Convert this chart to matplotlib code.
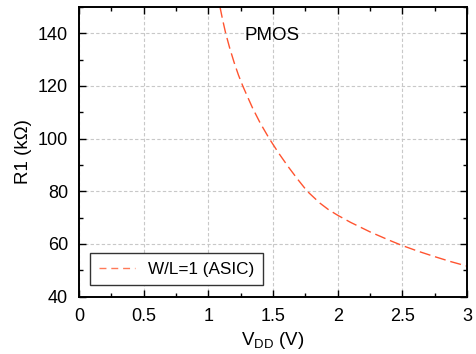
import matplotlib
matplotlib.use("Agg")
import matplotlib.pyplot as plt
from matplotlib.ticker import MultipleLocator
from matplotlib.lines import Line2D

plt.rcParams['font.family'] = ['Liberation Sans', 'DejaVu Sans']

vdd = [1.09, 1.11, 1.134, 1.165, 1.2, 1.233, 1.266, 1.30, 1.343, 1.40, 1.471, 1.545,
       1.618, 1.69, 1.765, 1.863, 1.93, 2.0, 2.1, 2.25, 2.4, 2.5, 2.625, 2.75, 2.875, 3.0]
r1 = [150, 145.2, 140, 134.4, 128.8, 124.1, 120, 116.2, 111.5, 106, 100, 94.4,
      89.3, 84.6, 80, 75.5, 73.0, 70.9, 68.2, 64.6, 61.4, 59.4, 57.2, 55.2, 53.3, 51.6]
series_label = "W/L=1 (ASIC)"
xticks = [0, 0.5, 1, 1.5, 2, 2.5, 3]
xticklabels = ["0", "0.5", "1", "1.5", "2", "2.5", "3"]
yticks = [40, 60, 80, 100, 120, 140]

line_color = '#FF5430'

fig = plt.figure(figsize=(4.77, 3.54), dpi=100)
ax = fig.add_axes([0.1656, 0.1619, 0.979 - 0.1656, 0.9808 - 0.1619])

ax.plot(vdd, r1, linestyle=(0, (8, 3.5)), color=line_color, linewidth=1.0)

ax.set_xlim(0, 3)
ax.set_ylim(40, 150)
ax.set_xticks(xticks)
ax.set_xticklabels(xticklabels)
ax.set_yticks(yticks)
ax.xaxis.set_minor_locator(MultipleLocator(0.25))
ax.yaxis.set_minor_locator(MultipleLocator(10))
ax.tick_params(which='both', direction='in', top=True, right=True, labelsize=13, width=1.0)
ax.tick_params(which='major', length=5, pad=8)
ax.tick_params(which='minor', length=3)
for s in ax.spines.values():
    s.set_linewidth(1.4)

ax.grid(True, which='major', color='#C8C8C8', linestyle=(0, (3, 2)), linewidth=0.8)

ax.text(1.495, 139, "PMOS", fontsize=13.5, ha='center', va='center')

ax.set_xlabel(r"V$_{\mathregular{DD}}$ (V)", fontsize=13.5, labelpad=4)
ax.set_ylabel("R1 (kΩ)", fontsize=13.5, labelpad=4)

handle = Line2D([], [], linestyle=(0, (5, 3.5)), color='#FF7A58', linewidth=1.0)
leg = ax.legend([handle], [series_label], loc='lower left', bbox_to_anchor=(0.02, 0.028),
                fontsize=12.3, frameon=True, fancybox=False, handlelength=2.1,
                handletextpad=0.8, borderpad=0.5, borderaxespad=0.2, edgecolor='#333333')
leg.get_frame().set_linewidth(1.0)
leg.get_frame().set_alpha(1)

fig.savefig("out.png", dpi=100)
